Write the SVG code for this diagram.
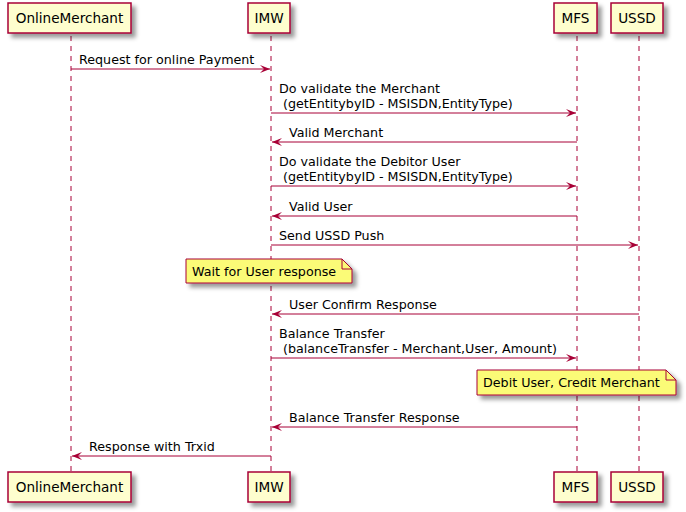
<svg xmlns="http://www.w3.org/2000/svg" width="686" height="512" viewBox="0 0 686 512">
<defs>
<filter id="sh" x="-20%" y="-20%" width="150%" height="160%">
<feGaussianBlur in="SourceAlpha" stdDeviation="2"/>
<feOffset dx="4" dy="4" result="b"/>
<feColorMatrix in="b" type="matrix" values="0 0 0 0 0  0 0 0 0 0  0 0 0 0 0  0 0 0 0.4 0"/>
<feMerge><feMergeNode/><feMergeNode in="SourceGraphic"/></feMerge>
</filter>
<marker id="ar" viewBox="0 0 10 8" refX="10" refY="4" markerWidth="10" markerHeight="8" markerUnits="userSpaceOnUse" orient="auto">
<path d="M0,0 L10,4 L0,8 L4,4 Z" fill="#A80036"/>
</marker>
</defs>
<style>
.life{stroke:#A80036;stroke-width:1;stroke-dasharray:5,5;fill:none}
.box{fill:#FEFECE;stroke:#A80036;stroke-width:1.5;filter:url(#sh)}
.pt{font-family:"DejaVu Sans",sans-serif;font-size:13.6px;fill:#000;text-anchor:middle}
.msg{stroke:#A80036;stroke-width:1;fill:none;marker-end:url(#ar)}
.mt{font-family:"DejaVu Sans",sans-serif;font-size:12.7px;fill:#000}
.note{fill:#FBFB77;stroke:#A80036;stroke-width:1;filter:url(#sh)}
.fold{fill:none;stroke:#A80036;stroke-width:1}
</style>
<rect width="686" height="512" fill="#FFFFFF"/>
<g id="OnlineMerchant">
<line class="life" x1="71" y1="36" x2="71" y2="472"/>
<rect class="box" x="8" y="3" width="123" height="30"/>
<text class="pt" x="69.5" y="23">OnlineMerchant</text>
<rect class="box" x="8" y="472" width="123" height="30"/>
<text class="pt" x="69.5" y="492">OnlineMerchant</text>
</g>
<g id="IMW">
<line class="life" x1="271" y1="36" x2="271" y2="472"/>
<rect class="box" x="248" y="3" width="42" height="30"/>
<text class="pt" x="269" y="23">IMW</text>
<rect class="box" x="248" y="472" width="42" height="30"/>
<text class="pt" x="269" y="492">IMW</text>
</g>
<g id="MFS">
<line class="life" x1="577" y1="36" x2="577" y2="472"/>
<rect class="box" x="554" y="3" width="43" height="30"/>
<text class="pt" x="575.5" y="23">MFS</text>
<rect class="box" x="554" y="472" width="43" height="30"/>
<text class="pt" x="575.5" y="492">MFS</text>
</g>
<g id="USSD">
<line class="life" x1="639" y1="36" x2="639" y2="472"/>
<rect class="box" x="611" y="3" width="52" height="30"/>
<text class="pt" x="637" y="23">USSD</text>
<rect class="box" x="611" y="472" width="52" height="30"/>
<text class="pt" x="637" y="492">USSD</text>
</g>
<g id="connectors">
<line class="msg" x1="71" y1="69" x2="270" y2="69"/>
<text class="mt" x="79" y="64">Request for online Payment</text>
<line class="msg" x1="271" y1="113" x2="576" y2="113"/>
<text class="mt" x="279" y="93">Do validate the Merchant</text>
<text class="mt" x="279" y="108" xml:space="preserve"> (getEntitybyID - MSISDN,EntityType)</text>
<line class="msg" x1="577" y1="142" x2="272" y2="142"/>
<text class="mt" x="289" y="137">Valid Merchant</text>
<line class="msg" x1="271" y1="186" x2="576" y2="186"/>
<text class="mt" x="279" y="166">Do validate the Debitor User</text>
<text class="mt" x="279" y="181" xml:space="preserve"> (getEntitybyID - MSISDN,EntityType)</text>
<line class="msg" x1="577" y1="216" x2="272" y2="216"/>
<text class="mt" x="289" y="211">Valid User</text>
<line class="msg" x1="271" y1="245" x2="638" y2="245"/>
<text class="mt" x="279" y="240">Send USSD Push</text>
<line class="msg" x1="639" y1="314" x2="272" y2="314"/>
<text class="mt" x="289" y="309">User Confirm Response</text>
<line class="msg" x1="271" y1="358" x2="576" y2="358"/>
<text class="mt" x="279" y="338">Balance Transfer</text>
<text class="mt" x="279" y="353" xml:space="preserve"> (balanceTransfer - Merchant,User, Amount)</text>
<line class="msg" x1="577" y1="427" x2="272" y2="427"/>
<text class="mt" x="289" y="422">Balance Transfer Response</text>
<line class="msg" x1="271" y1="456" x2="72" y2="456"/>
<text class="mt" x="89" y="451">Response with Trxid</text>
</g>
<g id="note1">
<path class="note" d="M186,259 L342,259 L352,269 L352,283 L186,283 Z"/>
<path class="fold" d="M342,259 L342,269 L352,269"/>
<text class="mt" x="192" y="276">Wait for User response</text>
</g>
<g id="note2">
<path class="note" d="M477,370 L666,370 L676,380 L676,395 L477,395 Z"/>
<path class="fold" d="M666,370 L666,380 L676,380"/>
<text class="mt" x="483" y="387">Debit User, Credit Merchant</text>
</g>
</svg>
